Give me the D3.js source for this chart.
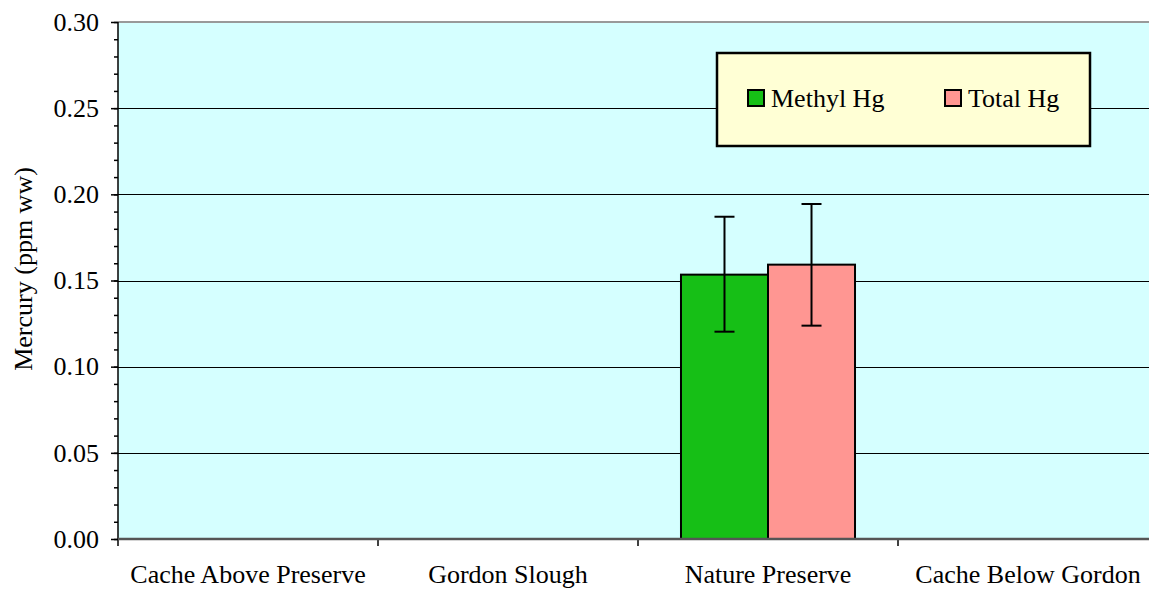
<!DOCTYPE html>
<html><head><meta charset="utf-8">
<script src="https://cdn.jsdelivr.net/npm/d3@7"></script>
<style>
html,body{margin:0;padding:0;background:#fff;overflow:hidden;}
svg{display:block;}
svg text{font-family:"Liberation Serif","Times New Roman",serif !important;}
</style></head>
<body><svg id="c" width="1149" height="590"></svg>
<script>
const categories = ["Cache Above Preserve","Gordon Slough","Nature Preserve","Cache Below Gordon"];
const seriesNames = ["Methyl Hg","Total Hg"];
const methylHg = [null, null, 0.1534, null];
const totalHg = [null, null, 0.1592, null];
const methylErrLow = [null, null, 0.1203, null];
const methylErrHigh = [null, null, 0.1870, null];
const totalErrLow = [null, null, 0.1238, null];
const totalErrHigh = [null, null, 0.1944, null];
const yTicks = [0, 0.05, 0.10, 0.15, 0.20, 0.25, 0.30];
const yMinorTicks = d3.range(0, 31).map(i => i / 100);
const colors = ["#16bf16", "#ff9692"];

const svg = d3.select("#c");
const L = 118, R = 1158, T = 22, B = 539;

const x = d3.scaleBand().domain(categories).range([L, R]).padding(0);
const x1 = d3.scaleBand().domain(seriesNames).range([0, x.bandwidth()]).paddingInner(0).paddingOuter(0.494);
const y = d3.scaleLinear().domain([0, 0.30]).range([B, T]);

// plot background
svg.append("rect").attr("x", L).attr("y", T).attr("width", R - L).attr("height", B - T).attr("fill", "#d5ffff");

// gridlines
svg.append("g").selectAll("line").data(yTicks.filter(v => v > 0 && v < 0.30)).join("line")
  .attr("x1", L).attr("x2", R).attr("y1", d => Math.round(y(d)) + 0.5).attr("y2", d => Math.round(y(d)) + 0.5)
  .attr("stroke", "#000").attr("stroke-width", 1);
svg.append("line").attr("x1", L).attr("x2", R).attr("y1", y(0.30)).attr("y2", y(0.30))
  .attr("stroke", "#999").attr("stroke-width", 2);

// bars
const data = [
  { values: methylHg, lo: methylErrLow, hi: methylErrHigh },
  { values: totalHg, lo: totalErrLow, hi: totalErrHigh }
];
const barRecs = [];
categories.forEach((c, i) => {
  seriesNames.forEach((s, j) => {
    const v = data[j].values[i];
    if (v != null) barRecs.push({ c, s, j, v, lo: data[j].lo[i], hi: data[j].hi[i] });
  });
});
const gBars = svg.append("g");
gBars.selectAll("rect").data(barRecs).join("rect")
  .attr("x", d => x(d.c) + x1(d.s))
  .attr("width", x1.bandwidth())
  .attr("y", d => y(d.v))
  .attr("height", d => y(0) - y(d.v))
  .attr("fill", d => colors[d.j])
  .attr("stroke", "#000").attr("stroke-width", 2);

// error bars
const gErr = svg.append("g").attr("stroke", "#000").attr("stroke-width", 2);
barRecs.forEach(d => {
  const cx = x(d.c) + x1(d.s) + x1.bandwidth() / 2;
  gErr.append("line").attr("x1", cx).attr("x2", cx).attr("y1", y(d.hi)).attr("y2", y(d.lo));
  gErr.append("line").attr("x1", cx - 10).attr("x2", cx + 10).attr("y1", y(d.hi)).attr("y2", y(d.hi));
  gErr.append("line").attr("x1", cx - 10).attr("x2", cx + 10).attr("y1", y(d.lo)).attr("y2", y(d.lo));
});

// y axis minor ticks
svg.append("g").attr("transform", `translate(${L},0)`)
  .call(d3.axisLeft(y).tickValues(yMinorTicks).tickSize(4).tickFormat(""))
  .call(g => g.select(".domain").remove())
  .selectAll("line").attr("stroke", "#000").attr("stroke-width", 1.5);

// y axis major
const yAxis = svg.append("g").attr("transform", `translate(${L},0)`)
  .call(d3.axisLeft(y).tickValues(yTicks).tickSize(7).tickPadding(12).tickFormat(d3.format(".2f")));
yAxis.attr("font-family", null);
yAxis.select(".domain").attr("stroke", "#000").attr("stroke-width", 1.5).attr("d", `M0,${T}V${B + 7}`);
yAxis.selectAll(".tick line").attr("stroke", "#000").attr("stroke-width", 1.5);
yAxis.selectAll("text").attr("font-size", 26).attr("fill", "#000");

// x axis
const xAxis = svg.append("g").attr("transform", `translate(0,${B})`)
  .call(d3.axisBottom(x).tickSize(0).tickPadding(26));
xAxis.attr("font-family", null);
xAxis.select(".domain").remove();
xAxis.selectAll("text").attr("font-size", 26).attr("fill", "#000");
svg.append("g").selectAll("line").data(categories.slice(1)).join("line")
  .attr("x1", d => x(d)).attr("x2", d => x(d)).attr("y1", B).attr("y2", B + 7)
  .attr("stroke", "#000").attr("stroke-width", 1.5);
svg.append("line").attr("x1", L).attr("x2", R).attr("y1", B).attr("y2", B)
  .attr("stroke", "#555").attr("stroke-width", 2.5);

// y label
svg.append("text").attr("transform", `translate(32,269) rotate(-90)`)
  .attr("text-anchor", "middle").attr("font-size", 26).attr("fill", "#000")
  .text("Mercury (ppm ww)");

// legend
const lg = svg.append("g");
lg.append("rect").attr("x", 717).attr("y", 53).attr("width", 373).attr("height", 93)
  .attr("fill", "#ffffd5").attr("stroke", "#000").attr("stroke-width", 2.5);
const legX = [748, 945];
seriesNames.forEach((s, j) => {
  lg.append("rect").attr("x", legX[j]).attr("y", 90).attr("width", 16).attr("height", 16)
    .attr("fill", colors[j]).attr("stroke", "#000").attr("stroke-width", 2);
  lg.append("text").attr("x", legX[j] + 23).attr("y", 107).attr("font-size", 26).attr("fill", "#000").text(s);
});
</script></body></html>
